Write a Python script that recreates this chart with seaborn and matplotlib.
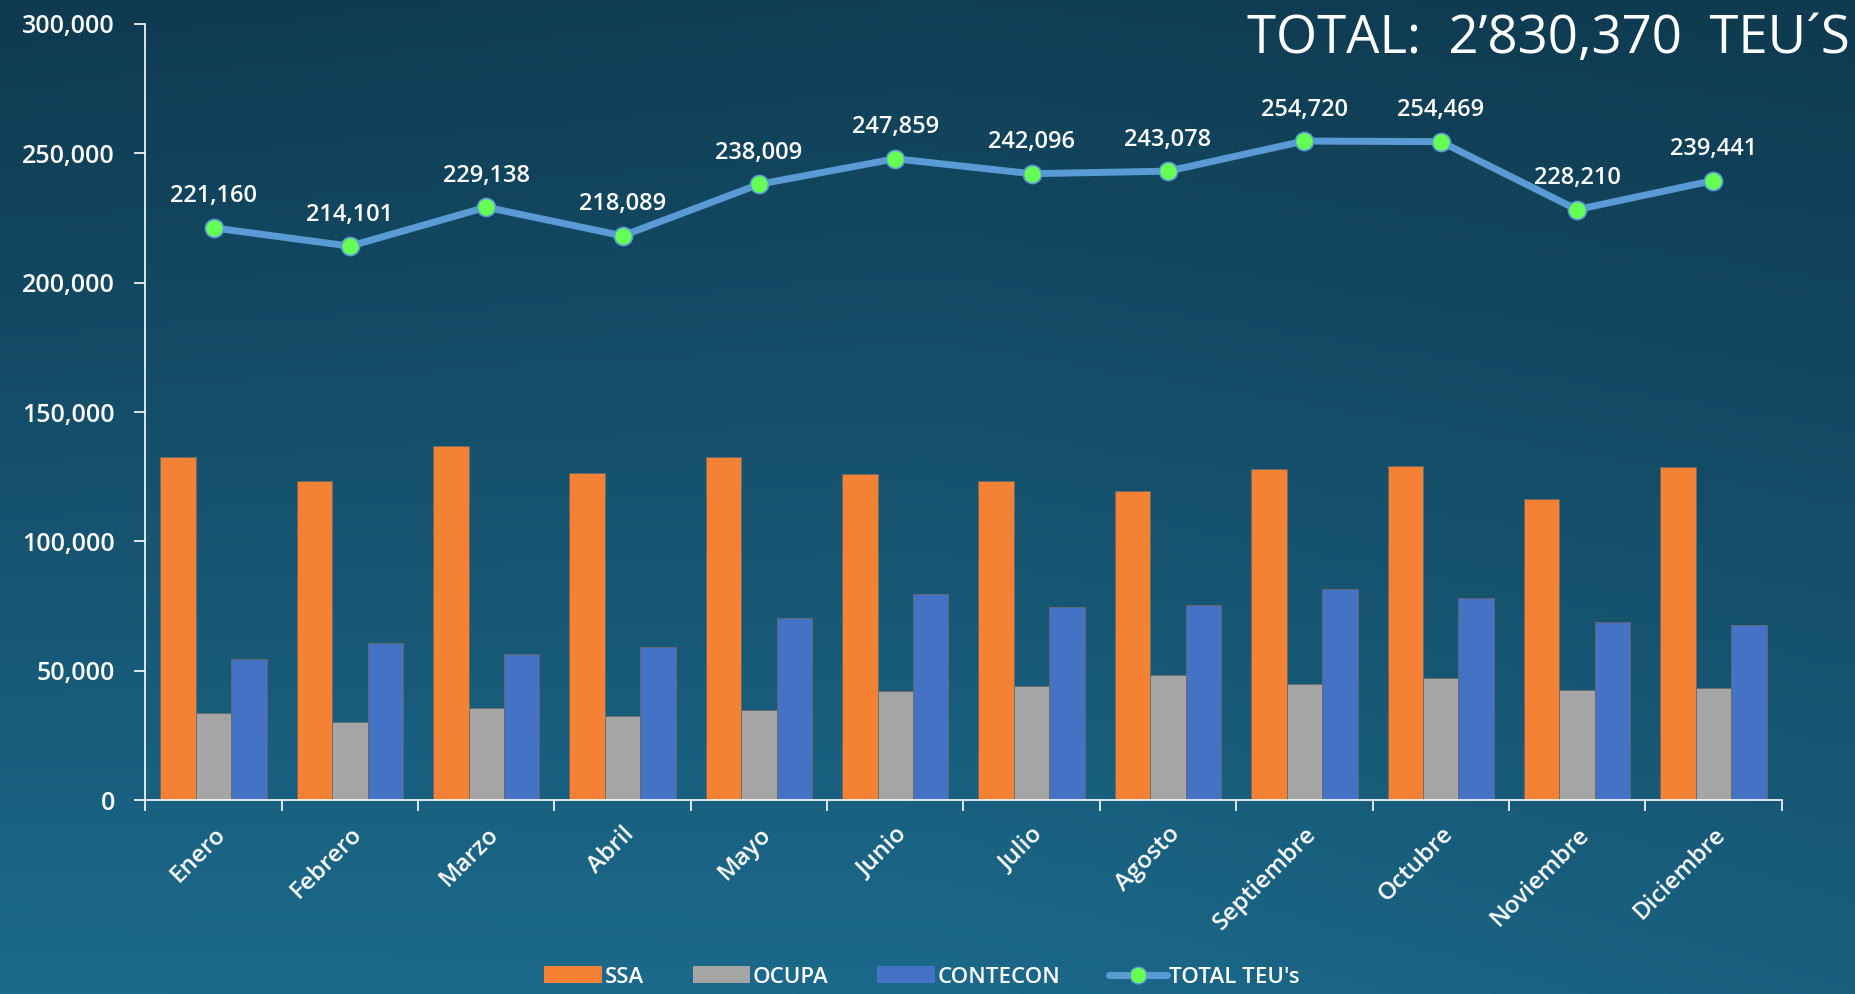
"""TEU's por terminal - movimiento mensual"""
# Imports
import numpy as np
import pandas as pd
import matplotlib.pyplot as plt
from matplotlib.lines import Line2D
from matplotlib.patches import Patch
from matplotlib.colors import LinearSegmentedColormap
import seaborn as sns

# Data
MESES = ['Enero', 'Febrero', 'Marzo', 'Abril', 'Mayo', 'Junio', 'Julio',
         'Agosto', 'Septiembre', 'Octubre', 'Noviembre', 'Diciembre']
SSA = [132700, 123400, 137000, 126300, 132700, 126000, 123500, 119400,
       128100, 129200, 116500, 128600]
OCUPA = [33800, 30100, 35500, 32700, 34800, 42100, 44100, 48400, 45000,
         47100, 42700, 43200]
CONTECON = [54660, 60601, 56638, 59089, 70509, 79759, 74496, 75278, 81620,
            78169, 69010, 67641]
TOTAL = [221160, 214101, 229138, 218089, 238009, 247859, 242096, 243078,
         254720, 254469, 228210, 239441]
TERMINALES = ['SSA', 'OCUPA', 'CONTECON']
COLORES = ['#f58234', '#a5a5a5', '#4472c4']
LINE_COLOR = '#5b9bd5'
MARKER_COLOR = '#66ff55'
TITULO = 'TOTAL:  2\u2019830,370  TEU\u00b4S'

data = pd.DataFrame({'Mes': MESES * 3,
                     'Terminal': np.repeat(TERMINALES, len(MESES)),
                     'TEUs': SSA + OCUPA + CONTECON})
totals = pd.DataFrame({'Mes': MESES, 'TEUs': TOTAL})

sns.set_style('ticks')
plt.rcParams['font.family'] = ['Open Sans', 'DejaVu Sans']
WHITE = 'white'

fig = plt.figure(figsize=(18.55, 9.94), dpi=100)

# Background gradient
bg = fig.add_axes([0, 0, 1, 1], zorder=-10)
yy, xx = np.mgrid[0:1:200j, 0:1:200j]
grad = 0.85 * yy + 0.25 * (1 - xx) * yy + 0.1 * (1 - np.abs(xx - 0.5) * 2)
cmap = LinearSegmentedColormap.from_list('bg', ['#0f3a50', '#1c6a8c'])
bg.imshow(grad, cmap=cmap, aspect='auto', extent=[0, 1, 0, 1], origin='upper')
bg.axis('off')

ax = fig.add_axes([0.0784, 0.195, 0.882, 0.781])
ax.patch.set_alpha(0)

bars = sns.barplot(data, x='Mes', y='TEUs', hue='Terminal', palette=COLORES,
                   width=0.78, saturation=1, legend=False, ax=ax,
                   edgecolor='#6a6a6a', linewidth=0.6)
sns.lineplot(totals, x='Mes', y='TEUs', ax=ax, color=LINE_COLOR, linewidth=5,
             marker='o', markersize=13, markerfacecolor=MARKER_COLOR,
             markeredgecolor=LINE_COLOR, markeredgewidth=1.2, sort=False)

# Data labels for the total line
for i, v in enumerate(TOTAL):
    ax.annotate(f'{v:,}', (i, v), xytext=(0, 14), textcoords='offset points',
                ha='center', va='bottom', color=WHITE, fontsize=17,
                fontweight='semibold')

# Axes styling
ax.set_ylim(0, 300000)
ax.set_xlim(-0.5, len(MESES) - 0.5)
ax.set_yticks(range(0, 300001, 50000))
ax.set_yticklabels([f'{t:,}' for t in range(0, 300001, 50000)],
                   fontweight='semibold')
ax.set_xticks(range(len(MESES)))
ax.set_xticklabels(MESES, rotation=45, ha='right', rotation_mode='anchor',
                   fontweight='semibold')
ax.set_xticks(np.arange(-0.5, len(MESES)), minor=True)
ax.tick_params(axis='x', which='major', length=0, pad=16, labelsize=17.5,
               labelcolor=WHITE)
ax.tick_params(axis='x', which='minor', length=8, width=1.2, color=WHITE,
               direction='out')
ax.tick_params(axis='y', length=8, width=1.2, color=WHITE, labelsize=18,
               labelcolor=WHITE, pad=14)
ax.set_xlabel(None)
ax.set_ylabel(None)
sns.despine(ax=ax)
for side in ['left', 'bottom']:
    ax.spines[side].set_color(WHITE)
    ax.spines[side].set_linewidth(1.2)

# Title top right
fig.text(0.997, 0.961, TITULO, color=WHITE, fontsize=38, ha='right',
         va='center')

# Legend
handles = [Patch(facecolor=c, edgecolor='none') for c in COLORES]
handles.append(Line2D([], [], color=LINE_COLOR, linewidth=5, marker='o',
                      markersize=12, markerfacecolor=MARKER_COLOR,
                      markeredgecolor=LINE_COLOR))
fig.legend(handles, TERMINALES + ["TOTAL TEU's"], loc='center',
           bbox_to_anchor=(0.497, 0.017), ncol=4, frameon=False,
           prop={'size': 16, 'weight': 'semibold'}, labelcolor=WHITE,
           handlelength=2.6, handleheight=0.8, handletextpad=0.1,
           columnspacing=2.2)

plt.savefig('out.png', dpi=100)
